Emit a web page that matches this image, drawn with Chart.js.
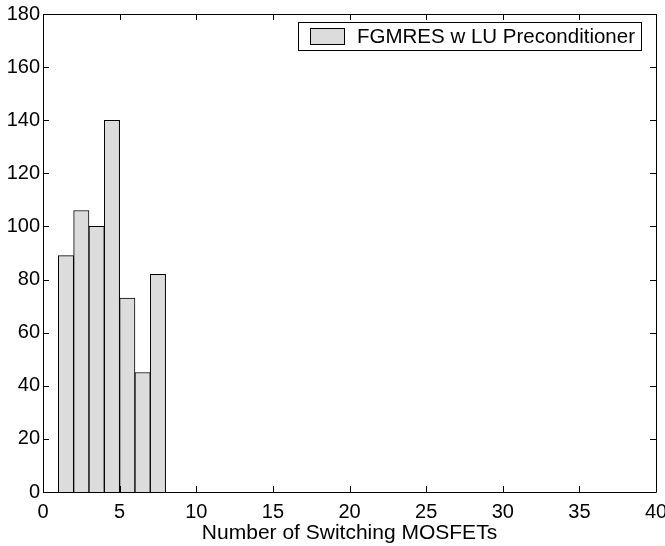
<!DOCTYPE html>
<html>
<head>
<meta charset="utf-8">
<script src="https://cdn.jsdelivr.net/npm/chart.js@4/dist/chart.umd.min.js"></script>
<style>
  html, body { margin: 0; padding: 0; background: #fff; }
  #wrap { width: 665px; height: 546px; }
</style>
</head>
<body>
<div id="wrap"><canvas id="grafico"></canvas></div>
<script>
// Datos del histograma (centros de cada barra y conteos).
const BIN_CENTERS = [1.5, 2.5, 3.5, 4.5, 5.5, 6.5, 7.5];
const COUNTS = [89, 106, 100, 140, 73, 45, 82];
const SERIES_LABEL = 'FGMRES w LU Preconditioner';
const X_TITLE = 'Number of Switching MOSFETs';

const FONT = 'Liberation Sans, Arial, Helvetica, sans-serif';

// Caja del gráfico con marcas hacia adentro y leyenda, estilo MATLAB.
const boxPlugin = {
    id: 'boxPlugin',
    afterDraw(chart) {
        const ctx = chart.ctx;
        const a = chart.chartArea;
        const xs = chart.scales.x;
        const ys = chart.scales.y;
        const tl = 6;
        ctx.save();
        ctx.strokeStyle = '#000';
        ctx.lineWidth = 1;
        ctx.beginPath();
        ctx.rect(Math.round(a.left) + 0.5, Math.round(a.top) + 0.5,
            Math.round(a.right - a.left), Math.round(a.bottom - a.top));
        // Marcas del eje X (abajo y arriba).
        xs.ticks.forEach(t => {
            const px = Math.round(xs.getPixelForValue(t.value)) + 0.5;
            ctx.moveTo(px, a.bottom);
            ctx.lineTo(px, a.bottom - tl);
            ctx.moveTo(px, a.top);
            ctx.lineTo(px, a.top + tl);
        });
        // Marcas del eje Y (izquierda y derecha).
        ys.ticks.forEach(t => {
            const py = Math.round(ys.getPixelForValue(t.value)) + 0.5;
            ctx.moveTo(a.left, py);
            ctx.lineTo(a.left + tl, py);
            ctx.moveTo(a.right, py);
            ctx.lineTo(a.right - tl, py);
        });
        ctx.stroke();

        // Leyenda.
        const lx = 298.5, ly = 22.5, lw = 343, lh = 28;
        ctx.fillStyle = '#fff';
        ctx.fillRect(lx, ly, lw, lh);
        ctx.strokeRect(lx, ly, lw, lh);
        ctx.fillStyle = '#dcdcdc';
        ctx.fillRect(310.5, 28.5, 34, 16);
        ctx.strokeRect(310.5, 28.5, 34, 16);
        ctx.fillStyle = '#000';
        ctx.font = '20.5px ' + FONT;
        ctx.textBaseline = 'middle';
        ctx.textAlign = 'left';
        ctx.fillText(SERIES_LABEL, 357, 37);
        ctx.restore();
    }
};

new Chart(document.getElementById('grafico'), {
    type: 'bar',
    data: {
        datasets: [{
            label: SERIES_LABEL,
            data: BIN_CENTERS.map((x, i) => ({ x: x, y: COUNTS[i] })),
            backgroundColor: '#dcdcdc',
            borderColor: '#000',
            borderWidth: 1,
            barPercentage: 1,
            categoryPercentage: 1
        }]
    },
    options: {
        responsive: true,
        maintainAspectRatio: false,
        animation: false,
        layout: { padding: { left: 0, right: 9, top: 14, bottom: 0 } },
        plugins: {
            legend: { display: false },
            tooltip: { enabled: false }
        },
        scales: {
            x: {
                type: 'linear',
                offset: false,
                min: 0,
                max: 40,
                grid: { display: false, drawTicks: false, offset: false },
                border: { display: false },
                ticks: { stepSize: 5, color: '#000', padding: 8, maxRotation: 0,
                    font: { family: FONT, size: 20 } },
                title: { display: true, text: X_TITLE, color: '#000', padding: 0,
                    font: { family: FONT, size: 21 } },
                afterFit(scale) {
                    scale.height = 54;
                    // El "40" queda recortado en el borde, como en el original.
                    scale.paddingRight = 0;
                    scale.paddingLeft = 0;
                }
            },
            y: {
                min: 0,
                max: 180,
                grid: { display: false, drawTicks: false },
                border: { display: false },
                ticks: { stepSize: 20, color: '#000', padding: 3,
                    font: { family: FONT, size: 20 } },
                afterFit(scale) {
                    scale.width = 43;
                    scale.paddingTop = 0;
                    scale.paddingBottom = 0;
                }
            }
        }
    },
    plugins: [boxPlugin]
});
</script>
</body>
</html>
